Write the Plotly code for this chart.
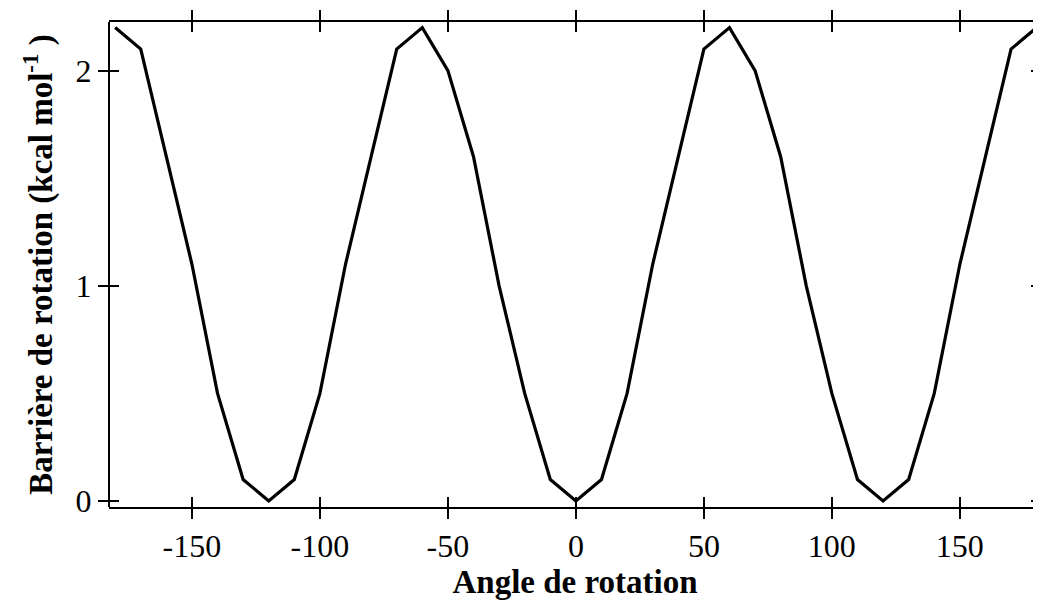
import plotly.graph_objects as go

angles = list(range(-180, 181, 10))
barrier = [2.2, 2.1, 1.6, 1.1, 0.5, 0.1, 0.0, 0.1, 0.5, 1.1, 1.6, 2.1,
           2.2, 2.0, 1.6, 1.0, 0.5, 0.1, 0.0, 0.1, 0.5, 1.1, 1.6, 2.1,
           2.2, 2.0, 1.6, 1.0, 0.5, 0.1, 0.0, 0.1, 0.5, 1.1, 1.6, 2.1, 2.2]
x_ticks = [-150, -100, -50, 0, 50, 100, 150]
x_labels = ["-150", "-100", "-50", "0", "50", "100", "150"]
y_ticks = [0, 1, 2]
y_labels = ["0", "1", "2"]

x_range = [-182.4, 181.7]
y_range = [-0.028, 2.226]
font = "Liberation Serif, Times New Roman, serif"

fig = go.Figure()
fig.add_trace(go.Scatter(
    x=angles, y=barrier, mode="lines",
    line=dict(color="black", width=3.2),
    showlegend=False, cliponaxis=False
))

axis_common = dict(showgrid=False, zeroline=False, showline=True,
                   linecolor="black", linewidth=2, mirror="ticks",
                   ticklen=10, tickwidth=2, tickcolor="black",
                   automargin=False)
# the right frame edge sits just outside the window, so the y axes
# draw no line of their own; the left edge is added as a shape
y_common = dict(axis_common, showline=False)

# page body adds 8px, so the figure is sized a bit smaller than the window
fig.update_layout(
    width=1033, height=593,
    margin=dict(l=101, r=0, t=14, b=94),
    plot_bgcolor="white", paper_bgcolor="white",
    font=dict(family=font, size=32, color="black"),
    xaxis=dict(range=x_range, tickvals=x_ticks, ticktext=x_labels,
               ticks="outside",
               title=dict(text="<b>Angle de rotation</b>", standoff=2,
                          font=dict(size=33)),
               **axis_common),
    yaxis=dict(range=y_range, tickvals=y_ticks, ticktext=y_labels,
               ticks="outside",
               title=dict(text="<b>Barrière de rotation (kcal mol<sup>-1</sup> )</b>",
                          standoff=13, font=dict(size=33)),
               **y_common),
    # second pair of axes gives the inward half of the crossing ticks
    xaxis2=dict(range=x_range, tickvals=x_ticks, ticks="inside",
                showticklabels=False, overlaying="x", matches="x", **axis_common),
    yaxis2=dict(range=y_range, tickvals=y_ticks, ticks="inside",
                showticklabels=False, overlaying="y", matches="y", **y_common),
)
fig.add_trace(go.Scatter(x=[None], y=[None], xaxis="x2", yaxis="y2",
                         showlegend=False, hoverinfo="skip"))
fig.add_shape(type="line", xref="paper", yref="paper", x0=0, x1=0, y0=0, y1=1,
              line=dict(color="black", width=2))

fig.write_html("out.html")
